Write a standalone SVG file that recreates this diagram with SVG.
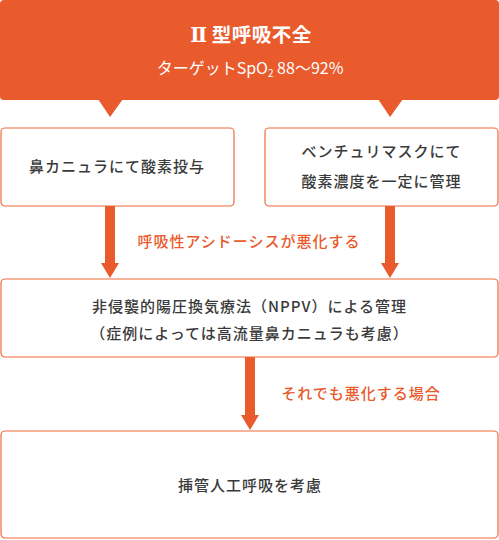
<svg xmlns="http://www.w3.org/2000/svg" width="499" height="540" viewBox="0 0 499 540">
<style>
.box{fill:#fff;stroke:#EE6A3C;stroke-width:1.2}
.t{font-family:"Noto Sans CJK JP","Noto Sans",sans-serif;font-size:15px;font-weight:500;fill:#3a3a3a;text-anchor:middle;letter-spacing:1px}
.lbl{font-family:"Noto Sans CJK JP","Noto Sans",sans-serif;font-size:15px;font-weight:500;fill:#E95A2D;text-anchor:middle;letter-spacing:1px}
.w{font-family:"Noto Sans CJK JP","Noto Sans",sans-serif;fill:#fff;text-anchor:middle}
.arrow{fill:#E95A2D}
</style>
<g id="header">
<rect x="0" y="0" width="499" height="100" rx="4" fill="#E95A2D"/>
<polygon points="98,99 123,99 110,117" fill="#E95A2D"/>
<polygon points="378,99 403,99 390,117" fill="#E95A2D"/>
<text class="w" x="251" y="42" font-size="19.5" font-weight="bold" letter-spacing="0.5"><tspan font-family="'DejaVu Serif',serif" font-size="20">Ⅱ</tspan><tspan dx="4">型呼吸不全</tspan></text>
<text class="w" x="250" y="74" font-size="16">ターゲットSpO<tspan font-size="10" dy="3">2</tspan><tspan dy="-3"> 88～92%</tspan></text>
</g>
<g id="connectors">
<rect class="arrow" x="105" y="206" width="10" height="58"/>
<polygon class="arrow" points="101,263 119,263 110,278"/>
<rect class="arrow" x="385" y="206" width="10" height="58"/>
<polygon class="arrow" points="381,263 399,263 390,278"/>
<rect class="arrow" x="245" y="357" width="10" height="59"/>
<polygon class="arrow" points="241,415 259,415 250,430"/>
<text class="lbl" x="249" y="247">呼吸性アシドーシスが悪化する</text>
<text class="lbl" x="361" y="399">それでも悪化する場合</text>
</g>
<g id="nasal">
<rect class="box" x="1" y="128" width="233" height="78" rx="4"/>
<text class="t" x="117" y="172">鼻カニュラにて酸素投与</text>
</g>
<g id="venturi">
<rect class="box" x="265" y="128" width="233" height="78" rx="4"/>
<text class="t" x="381.5" y="157">ベンチュリマスクにて</text>
<text class="t" x="381.5" y="187">酸素濃度を一定に管理</text>
</g>
<g id="nppv">
<rect class="box" x="1" y="279" width="497" height="78" rx="4"/>
<text class="t" x="249.5" y="312">非侵襲的陽圧換気療法（NPPV）による管理</text>
<text class="t" x="249.5" y="339">（症例によっては高流量鼻カニュラも考慮）</text>
</g>
<g id="intubation">
<rect class="box" x="1" y="431" width="497" height="107" rx="4"/>
<text class="t" x="250" y="491">挿管人工呼吸を考慮</text>
</g>
</svg>
